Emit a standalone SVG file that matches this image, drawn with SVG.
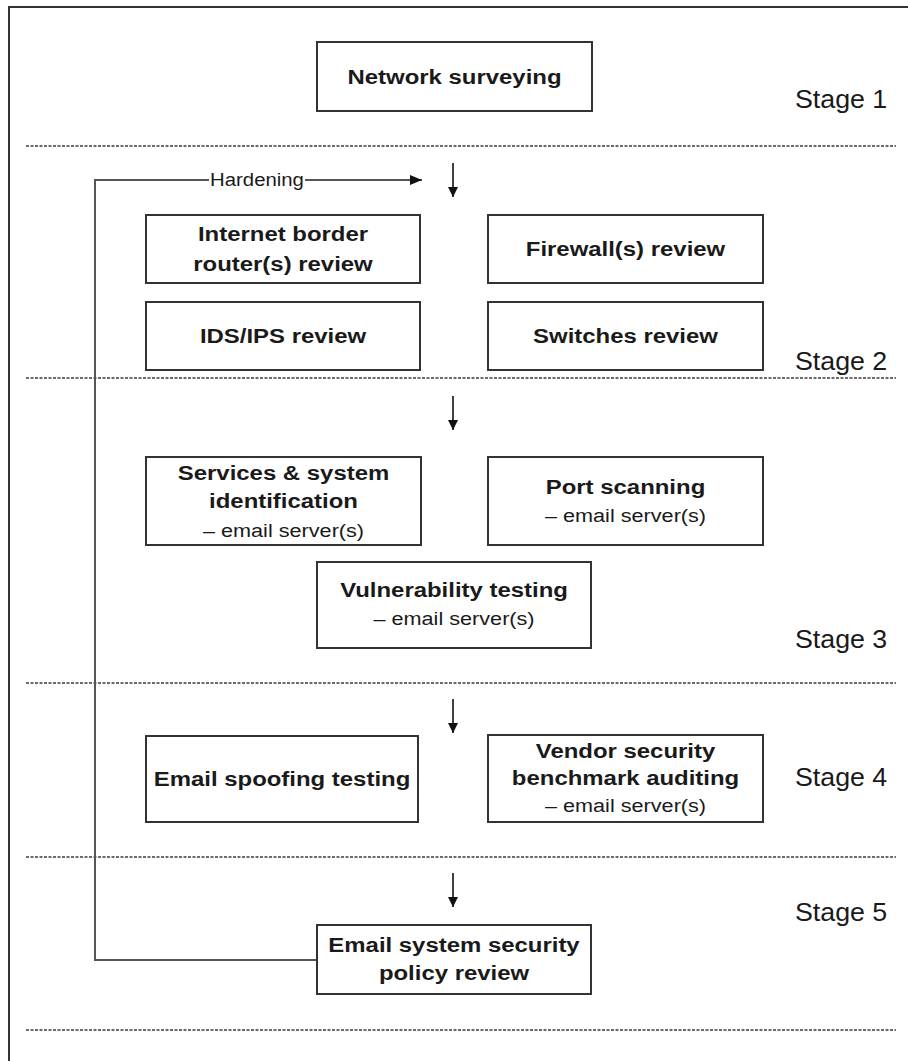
<svg xmlns="http://www.w3.org/2000/svg" width="908" height="1061" viewBox="0 0 908 1061">
  <style>
    .frame { fill: none; stroke: #333; stroke-width: 2; }
    .divider { fill: none; stroke: #3c3c3c; stroke-width: 1.6; stroke-dasharray: 3 1.5; }
    .box { fill: #fff; stroke: #333; stroke-width: 2; }
    .title { font-family: "Liberation Sans", Arial, sans-serif; font-size: 21px; font-weight: bold; fill: #1a1a1a; text-anchor: middle; }
    .sub { font-family: "Liberation Sans", Arial, sans-serif; font-size: 19px; fill: #1a1a1a; text-anchor: middle; }
    .stage { font-family: "Liberation Sans", Arial, sans-serif; font-size: 26px; fill: #1a1a1a; }
    .label { font-family: "Liberation Sans", Arial, sans-serif; font-size: 18px; fill: #1a1a1a; text-anchor: middle; }
    .flow { fill: none; stroke: #111; stroke-width: 1.6; }
    .loop { fill: none; stroke: #555; stroke-width: 2; }
  </style>
  <defs>
    <marker id="head" viewBox="0 0 10 10" refX="10" refY="5" markerWidth="10" markerHeight="10" markerUnits="userSpaceOnUse" orient="auto">
      <path d="M0,0 L10,5 L0,10 z" fill="#111"/>
    </marker>
    <marker id="headH" viewBox="0 0 12 10" refX="12" refY="5" markerWidth="12" markerHeight="11" markerUnits="userSpaceOnUse" orient="auto">
      <path d="M0,0 L12,5 L0,10 z" fill="#111"/>
    </marker>
  </defs>

  <rect width="908" height="1061" fill="#fff"/>
  <!-- outer frame: only top and left edges fall inside the canvas -->
  <rect class="frame" x="9" y="7" width="1000" height="1100"/>

  <!-- stage dividers -->
  <g id="dividers">
    <line class="divider" x1="26" y1="146" x2="896" y2="146"/>
    <line class="divider" x1="26" y1="378" x2="896" y2="378"/>
    <line class="divider" x1="26" y1="683" x2="896" y2="683"/>
    <line class="divider" x1="26" y1="857" x2="896" y2="857"/>
    <line class="divider" x1="26" y1="1030" x2="896" y2="1030"/>
  </g>

  <!-- stage labels -->
  <g id="stages">
    <g transform="translate(795 0) scale(1.03 1)"><text class="stage" x="0" y="108">Stage 1</text></g>
    <g transform="translate(795 0) scale(1.03 1)"><text class="stage" x="0" y="370">Stage 2</text></g>
    <g transform="translate(795 0) scale(1.03 1)"><text class="stage" x="0" y="648">Stage 3</text></g>
    <g transform="translate(795 0) scale(1.03 1)"><text class="stage" x="0" y="786">Stage 4</text></g>
    <g transform="translate(795 0) scale(1.03 1)"><text class="stage" x="0" y="921">Stage 5</text></g>
  </g>

  <!-- connectors -->
  <g id="connectors">
    <line class="flow" x1="453" y1="163" x2="453" y2="197" marker-end="url(#head)"/>
    <line class="flow" x1="453" y1="396" x2="453" y2="430" marker-end="url(#head)"/>
    <line class="flow" x1="453" y1="699" x2="453" y2="733" marker-end="url(#head)"/>
    <line class="flow" x1="453" y1="873" x2="453" y2="907" marker-end="url(#head)"/>
    <!-- hardening feedback loop from the policy review back to stage 2 -->
    <path class="loop" d="M317,960 H95 V180 H209"/>
    <path class="loop" d="M305,180 H422" marker-end="url(#headH)"/>
    <g transform="translate(257 0) scale(1.13 1)"><text class="label" x="0" y="186">Hardening</text></g>
  </g>

  <!-- Stage 1 -->
  <g id="network-surveying">
    <rect class="box" x="317" y="42" width="275" height="69"/>
    <g transform="translate(454.5 0) scale(1.14 1)"><text class="title" x="0" y="84">Network surveying</text></g>
  </g>

  <!-- Stage 2 -->
  <g id="border-router-review">
    <rect class="box" x="146" y="215" width="274" height="68"/>
    <g transform="translate(283 0) scale(1.14 1)">
      <text class="title" x="0" y="241">Internet border</text>
      <text class="title" x="0" y="271">router(s) review</text>
    </g>
  </g>
  <g id="firewall-review">
    <rect class="box" x="488" y="215" width="275" height="68"/>
    <g transform="translate(625.5 0) scale(1.14 1)"><text class="title" x="0" y="256">Firewall(s) review</text></g>
  </g>
  <g id="ids-ips-review">
    <rect class="box" x="146" y="302" width="274" height="68"/>
    <g transform="translate(283 0) scale(1.14 1)"><text class="title" x="0" y="343">IDS/IPS review</text></g>
  </g>
  <g id="switches-review">
    <rect class="box" x="488" y="302" width="275" height="68"/>
    <g transform="translate(625.5 0) scale(1.14 1)"><text class="title" x="0" y="343">Switches review</text></g>
  </g>

  <!-- Stage 3 -->
  <g id="services-identification">
    <rect class="box" x="146" y="457" width="275" height="88"/>
    <g transform="translate(283.5 0) scale(1.14 1)">
      <text class="title" x="0" y="480">Services &amp; system</text>
      <text class="title" x="0" y="508">identification</text>
      <text class="sub" x="0" y="537">– email server(s)</text>
    </g>
  </g>
  <g id="port-scanning">
    <rect class="box" x="488" y="457" width="275" height="88"/>
    <g transform="translate(625.5 0) scale(1.14 1)">
      <text class="title" x="0" y="494">Port scanning</text>
      <text class="sub" x="0" y="522">– email server(s)</text>
    </g>
  </g>
  <g id="vulnerability-testing">
    <rect class="box" x="317" y="562" width="274" height="86"/>
    <g transform="translate(454 0) scale(1.14 1)">
      <text class="title" x="0" y="597">Vulnerability testing</text>
      <text class="sub" x="0" y="625">– email server(s)</text>
    </g>
  </g>

  <!-- Stage 4 -->
  <g id="email-spoofing-testing">
    <rect class="box" x="146" y="736" width="272" height="86"/>
    <g transform="translate(282 0) scale(1.14 1)"><text class="title" x="0" y="786">Email spoofing testing</text></g>
  </g>
  <g id="vendor-benchmark-auditing">
    <rect class="box" x="488" y="735" width="275" height="87"/>
    <g transform="translate(625.5 0) scale(1.14 1)">
      <text class="title" x="0" y="758">Vendor security</text>
      <text class="title" x="0" y="785">benchmark auditing</text>
      <text class="sub" x="0" y="812">– email server(s)</text>
    </g>
  </g>

  <!-- Stage 5 -->
  <g id="policy-review">
    <rect class="box" x="317" y="925" width="274" height="69"/>
    <g transform="translate(454 0) scale(1.14 1)">
      <text class="title" x="0" y="952">Email system security</text>
      <text class="title" x="0" y="980">policy review</text>
    </g>
  </g>
</svg>
